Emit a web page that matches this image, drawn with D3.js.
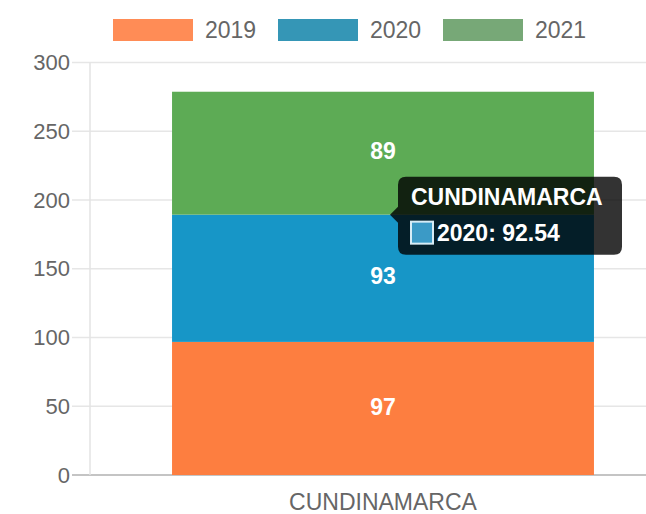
<!DOCTYPE html>
<html>
<head>
<meta charset="utf-8">
<script src="https://cdn.jsdelivr.net/npm/d3@7"></script>
<style>
  body { margin: 0; background: #fff; }
  svg text { font-family: "Liberation Sans", Arial, Helvetica, sans-serif; }
</style>
</head>
<body>
<div id="wrapper"></div>
<script>
const categories = ["CUNDINAMARCA"];
const years = ["2019", "2020", "2021"];
const values2019 = [96.8];
const values2020 = [92.54];
const values2021 = [89.4];
const yTicks = [0, 50, 100, 150, 200, 250, 300];

const barColors = ["#fd7e40", "#1796c7", "#5dab55"];
const legendColors = ["#ff8c56", "#3596b6", "#77a877"];

function draw() {
    const dimensions = {
        width: 646,
        height: 514,
        margin: { top: 62.5, right: -30, bottom: 39, left: 90 },
    };
    dimensions.boundedWidth = dimensions.width - dimensions.margin.left - dimensions.margin.right;
    dimensions.boundedHeight = dimensions.height - dimensions.margin.top - dimensions.margin.bottom;

    const rows = categories.map((c, i) => ({
        category: c,
        "2019": values2019[i],
        "2020": values2020[i],
        "2021": values2021[i],
    }));
    const series = d3.stack().keys(years)(rows);

    const svg = d3.select("#wrapper")
        .append("svg")
        .attr("width", dimensions.width)
        .attr("height", dimensions.height);

    const bounds = svg.append("g")
        .attr("transform", `translate(${dimensions.margin.left},${dimensions.margin.top})`);

    const xScale = d3.scaleBand()
        .domain(categories)
        .range([0, dimensions.boundedWidth]);

    const yScale = d3.scaleLinear()
        .domain([0, 300])
        .range([dimensions.boundedHeight, 0]);

    const barWidth = xScale.bandwidth() * 0.72;
    const barX = d => xScale(d.data.category) + (xScale.bandwidth() - barWidth) / 2;

    // grid
    bounds.append("g")
        .selectAll("line")
        .data(yTicks)
        .join("line")
        .attr("x1", -18)
        .attr("x2", dimensions.boundedWidth)
        .attr("y1", d => yScale(d))
        .attr("y2", d => yScale(d))
        .attr("stroke", d => d == 0 ? "#c4c4c4" : "#e6e6e6")
        .attr("stroke-width", d => d == 0 ? 2 : 1.5);

    bounds.append("line")
        .attr("x1", 0).attr("x2", 0)
        .attr("y1", 0).attr("y2", dimensions.boundedHeight)
        .attr("stroke", "#e3e3e3")
        .attr("stroke-width", 1.5);

    // y labels
    bounds.append("g")
        .selectAll("text")
        .data(yTicks)
        .join("text")
        .attr("x", -20)
        .attr("y", d => yScale(d))
        .attr("dy", "0.35em")
        .attr("text-anchor", "end")
        .attr("fill", "#666")
        .style("font-size", "22px")
        .text(d => d);

    // x labels
    bounds.append("g")
        .selectAll("text")
        .data(categories)
        .join("text")
        .attr("x", d => xScale(d) + xScale.bandwidth() / 2)
        .attr("y", dimensions.boundedHeight + 35)
        .attr("text-anchor", "middle")
        .attr("fill", "#666")
        .style("font-size", "23px")
        .text(d => d);

    // bars
    const layers = bounds.append("g")
        .selectAll("g")
        .data(series)
        .join("g")
        .attr("fill", (d, i) => barColors[i]);

    layers.selectAll("rect")
        .data(d => d)
        .join("rect")
        .attr("x", barX)
        .attr("y", d => yScale(d[1]))
        .attr("width", barWidth)
        .attr("height", d => yScale(d[0]) - yScale(d[1]));

    // data labels
    layers.selectAll("text")
        .data(d => d.map(v => ({ v: v, value: v[1] - v[0] })))
        .join("text")
        .attr("x", d => barX(d.v) + barWidth / 2)
        .attr("y", d => (yScale(d.v[0]) + yScale(d.v[1])) / 2 - 2)
        .attr("dy", "0.35em")
        .attr("text-anchor", "middle")
        .attr("fill", "#fff")
        .style("font-size", "23px")
        .style("font-weight", "bold")
        .text(d => Math.round(d.value));

    // legend
    const legend = svg.append("g")
        .selectAll("g")
        .data(years)
        .join("g")
        .attr("transform", (d, i) => `translate(${113 + i * 165},19)`);
    legend.append("rect")
        .attr("width", 80)
        .attr("height", 22)
        .attr("fill", (d, i) => legendColors[i]);
    legend.append("text")
        .attr("x", 92)
        .attr("y", 11)
        .attr("dy", "0.35em")
        .attr("fill", "#666")
        .style("font-size", "23px")
        .text(d => d);

    // tooltip on 2020 segment
    const seg = series[1][0];
    const tipX = dimensions.margin.left + barX(seg) + barWidth / 2 + 7;
    const tipY = dimensions.margin.top + yScale(seg[1]);
    const boxX = tipX + 8, boxY = tipY - 38, boxW = 224, boxH = 78;
    const tooltip = svg.append("g");
    tooltip.append("path")
        .attr("d", `M${boxX + 8},${boxY} H${boxX + boxW - 8} Q${boxX + boxW},${boxY} ${boxX + boxW},${boxY + 8}
            V${boxY + boxH - 8} Q${boxX + boxW},${boxY + boxH} ${boxX + boxW - 8},${boxY + boxH}
            H${boxX + 8} Q${boxX},${boxY + boxH} ${boxX},${boxY + boxH - 8}
            V${tipY + 8} L${tipX},${tipY} L${boxX},${tipY - 8}
            V${boxY + 8} Q${boxX},${boxY} ${boxX + 8},${boxY} Z`)
        .attr("fill", "rgba(0,0,0,0.8)");
    tooltip.append("text")
        .attr("x", boxX + 13)
        .attr("y", boxY + 28)
        .attr("fill", "#fff")
        .style("font-size", "23px")
        .style("font-weight", "bold")
        .text(categories[0]);
    tooltip.append("rect")
        .attr("x", boxX + 13)
        .attr("y", boxY + 45)
        .attr("width", 22)
        .attr("height", 22)
        .attr("fill", "#3b9ac6")
        .attr("stroke", "#d6ecf6")
        .attr("stroke-width", 2);
    tooltip.append("text")
        .attr("x", boxX + 39)
        .attr("y", boxY + 64)
        .attr("fill", "#fff")
        .style("font-size", "23px")
        .style("font-weight", "bold")
        .text(`${years[1]}: ${values2020[0]}`);
}
draw();
</script>
</body>
</html>
